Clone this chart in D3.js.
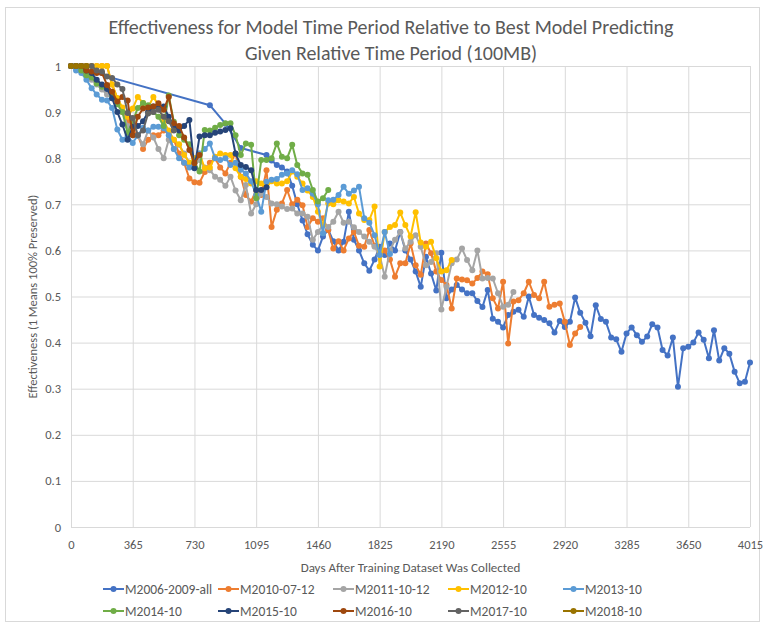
<!DOCTYPE html>
<html>
<head>
<meta charset="utf-8">
<script src="https://cdn.jsdelivr.net/npm/d3@7/dist/d3.min.js"></script>
<style>
  body { margin: 0; background: #fff; }
  text { font-family: Carlito, 'Liberation Sans Narrow', 'Liberation Sans', sans-serif; fill: #595959; }
</style>
</head>
<body>
<script>
// days after training data, one point per month
var days = [
  0,30,61,91,122,152,183,213,243,274,304,335,
  365,395,426,456,487,517,548,578,608,639,669,700,
  730,760,791,821,852,882,913,943,973,1004,1034,1065,
  1095,1125,1156,1186,1217,1247,1278,1308,1338,1369,1399,1430,
  1460,1490,1521,1551,1582,1612,1643,1673,1703,1734,1764,1795,
  1825,1855,1886,1916,1947,1977,2008,2038,2068,2099,2129,2160,
  2190,2220,2251,2281,2312,2342,2373,2403,2433,2464,2494,2525,
  2555,2585,2616,2646,2677,2707,2738,2768,2798,2829,2859,2890,
  2920,2950,2981,3011,3042,3072,3103,3133,3163,3194,3224,3255,
  3285,3315,3346,3376,3407,3437,3468,3498,3528,3559,3589,3620,
  3650,3680,3711,3741,3772,3802,3833,3863,3893,3924,3954,3985,
  4015
];

var seriesNames = ["M2006-2009-all","M2010-07-12","M2011-10-12","M2012-10","M2013-10",
                   "M2014-10","M2015-10","M2016-10","M2017-10","M2018-10"];
var colors = ["#4472C4","#ED7D31","#A5A5A5","#FFC000","#5B9BD5",
              "#70AD47","#264478","#9E480E","#636363","#997300"];

var m2006 = [
  1.0,1.0,0.995,0.99,null,null,null,null,null,null,null,null,
  null,null,null,null,null,null,null,null,null,null,null,null,
  null,null,null,0.915,null,null,0.875,null,null,0.822,null,null,
  null,null,0.807,0.795,0.785,0.78,0.771,0.74,0.70,0.665,0.635,0.612,
  0.60,0.63,0.645,0.62,0.60,0.619,0.684,0.623,0.60,0.572,0.556,0.58,
  0.608,0.59,0.615,0.60,0.64,0.60,0.58,0.554,0.521,0.586,0.55,0.513,
  0.595,0.496,0.515,0.525,0.515,0.507,0.507,0.49,0.477,0.514,0.452,0.445,
  0.433,0.46,0.467,0.471,0.456,0.50,0.46,0.454,0.449,0.442,0.422,0.447,
  0.434,0.445,0.498,0.465,0.443,0.414,0.481,0.451,0.445,0.411,0.407,0.38,
  0.42,0.433,0.416,0.402,0.413,0.44,0.433,0.384,0.372,0.411,0.304,0.388,
  0.391,0.40,0.422,0.406,0.366,0.427,0.361,0.388,0.376,0.337,0.312,0.315,
  0.357
];
var m2010 = [
  1.0,1.0,1.0,1.0,1.0,1.0,1.0,1.0,0.96,0.93,0.90,0.88,
  0.86,0.85,0.82,0.84,0.85,0.85,0.86,0.857,0.84,0.81,0.79,0.756,
  0.748,0.747,0.77,0.79,0.80,0.78,0.767,0.79,0.81,0.76,0.72,0.706,
  0.73,0.72,0.774,0.651,0.688,0.702,0.731,0.70,0.71,0.698,0.651,0.67,
  0.662,0.67,0.644,0.604,0.62,0.60,0.626,0.64,0.61,0.608,0.644,0.61,
  0.593,0.60,0.58,0.543,0.572,0.572,0.615,0.568,0.547,0.615,0.594,0.554,
  0.536,0.525,0.474,0.539,0.537,0.535,0.528,0.54,0.554,0.548,0.496,0.474,
  0.532,0.398,0.489,0.492,0.507,0.532,0.503,0.496,0.532,0.478,0.482,0.485,
  0.445,0.395,0.42,0.434
];
var m2011 = [
  1.0,1.0,0.995,0.98,0.97,0.96,0.949,0.938,0.93,0.923,0.90,0.87,
  0.85,0.848,0.83,0.86,0.845,0.82,0.80,0.84,0.82,0.829,0.81,0.79,
  0.80,0.796,0.78,0.774,0.76,0.753,0.74,0.76,0.73,0.709,0.742,0.68,
  0.70,0.723,0.716,0.702,0.70,0.695,0.69,0.691,0.68,0.68,0.673,0.623,
  0.64,0.655,0.651,0.662,0.684,0.66,0.662,0.65,0.64,0.63,0.619,0.608,
  0.59,0.543,0.60,0.623,0.64,0.604,0.619,0.633,0.608,0.568,0.575,0.594,
  0.472,0.521,0.572,0.58,0.604,0.579,0.557,0.60,0.539,0.54,0.539,0.507,
  0.478,0.482,0.51
];
var m2012 = [
  1.0,1.0,1.0,1.0,1.0,1.0,1.0,1.0,0.96,0.93,0.91,0.89,
  0.908,0.933,0.92,0.91,0.933,0.915,0.88,0.86,0.84,0.83,0.807,0.79,
  0.80,0.81,0.778,0.78,0.803,0.81,0.807,0.807,0.778,0.76,0.755,0.745,
  0.75,0.745,0.738,0.75,0.745,0.745,0.75,0.771,0.76,0.745,0.73,0.716,
  0.684,0.655,0.702,0.70,0.709,0.706,0.702,0.716,0.68,0.666,0.666,0.695,
  0.565,0.64,0.651,0.655,0.682,0.655,0.63,0.683,0.617,0.608,0.619,0.583,
  0.554,0.557,0.579
];
var m2013 = [
  1.0,0.99,0.985,0.97,0.952,0.938,0.927,0.925,0.909,0.862,0.84,0.85,
  0.833,0.85,0.866,0.86,0.868,0.868,0.865,0.85,0.82,0.80,0.79,0.78,
  0.79,0.81,0.82,0.832,0.80,0.796,0.80,0.785,0.79,0.775,0.767,0.75,
  0.72,0.684,0.749,0.753,0.755,0.764,0.767,0.774,0.765,0.731,0.735,0.723,
  0.70,0.637,0.709,0.71,0.72,0.738,0.723,0.73,0.738,0.67,0.66,0.633,
  0.59,0.64,0.592
];
var m2014 = [
  1.0,1.0,0.99,0.98,0.975,0.962,0.955,0.952,0.937,0.917,0.90,0.855,
  0.88,0.909,0.92,0.915,0.90,0.89,0.87,0.936,0.879,0.85,0.84,0.83,
  0.792,0.771,0.861,0.86,0.866,0.872,0.876,0.876,0.85,0.807,0.832,0.829,
  0.713,0.796,0.796,0.80,0.832,0.803,0.80,0.829,0.785,0.767,0.764,0.731,
  0.706,0.713,0.731
];
var m2015 = [
  1.0,1.0,1.0,0.99,0.985,0.97,0.96,0.95,0.93,0.90,0.873,0.84,
  0.868,0.87,0.88,0.90,0.912,0.908,0.912,0.89,0.87,0.86,0.87,0.883,
  0.778,0.847,0.85,0.85,0.855,0.858,0.861,0.865,0.81,0.785,0.781,0.774,
  0.731,0.731,0.737
];
var m2016 = [
  1.0,1.0,1.0,0.99,0.988,0.985,0.985,0.959,0.944,0.923,0.933,0.925,
  0.85,0.89,0.908,0.91,0.912,0.919,0.905,0.933,0.876,0.87,0.845,0.818,
  0.789,0.807
];
var m2017 = [
  1.0,1.0,1.0,1.0,1.0,0.99,0.988,0.977,0.974,0.96,0.95,0.898,
  0.887,0.85,0.86,0.897,0.90,0.905,0.89,0.88,0.86
];
var m2018 = [1.0,1.0,1.0,1.0];

var seriesValues = [m2006, m2010, m2011, m2012, m2013, m2014, m2015, m2016, m2017, m2018];

var xTicks = [0,365,730,1095,1460,1825,2190,2555,2920,3285,3650,4015];
var yTicks = [0,0.1,0.2,0.3,0.4,0.5,0.6,0.7,0.8,0.9,1];

var W = 764, H = 626;
var plot = {left:71, right:750, top:66, bottom:527};

var svg = d3.select("body").append("svg")
  .attr("width", W)
  .attr("height", H);

// chart frame
svg.append("rect")
  .attr("x", 5.5).attr("y", 7.5)
  .attr("width", 754).attr("height", 614)
  .attr("fill", "#fff")
  .attr("stroke", "#D9D9D9");

var x = d3.scaleLinear().domain([0, 4015]).range([plot.left, plot.right]);
var y = d3.scaleLinear().domain([0, 1]).range([plot.bottom, plot.top]);

// gridlines + tick labels
var gx = svg.append("g")
  .attr("transform", "translate(0," + plot.bottom + ")")
  .call(d3.axisBottom(x)
    .tickValues(xTicks)
    .tickSize(-(plot.bottom - plot.top))
    .tickPadding(13)
    .tickFormat(d3.format("d")));

var gy = svg.append("g")
  .attr("transform", "translate(" + plot.left + ",0)")
  .call(d3.axisLeft(y)
    .tickValues(yTicks)
    .tickSize(-(plot.right - plot.left))
    .tickPadding(10)
    .tickFormat(d3.format("~g")));

[gx, gy].forEach(function(g) {
  g.select(".domain").remove();
  g.selectAll(".tick line").attr("stroke", "#D9D9D9").attr("stroke-width", 1);
  g.selectAll(".tick text").attr("font-size", 12.5).style("fill", "#595959")
    .attr("font-family", null);
});

// series, first one drawn underneath
var line = d3.line()
  .x(function(d) { return x(d.day); })
  .y(function(d) { return y(d.v); });

var seriesG = svg.append("g");
seriesValues.forEach(function(vals, k) {
  var pts = [];
  vals.forEach(function(v, i) {
    if (v !== null) pts.push({ day: days[i], v: v });
  });
  var g = seriesG.append("g");
  g.append("path")
    .datum(pts)
    .attr("d", line)
    .attr("fill", "none")
    .attr("stroke", colors[k])
    .attr("stroke-width", 2)
    .attr("stroke-linejoin", "round");
  g.selectAll("circle")
    .data(pts)
    .enter().append("circle")
    .attr("cx", function(d) { return x(d.day); })
    .attr("cy", function(d) { return y(d.v); })
    .attr("r", 3)
    .attr("fill", colors[k]);
});

// titles
svg.append("text")
  .attr("x", 391).attr("y", 34)
  .attr("text-anchor", "middle")
  .attr("font-size", 20)
  .text("Effectiveness for Model Time Period Relative to Best Model Predicting");
svg.append("text")
  .attr("x", 391).attr("y", 60)
  .attr("text-anchor", "middle")
  .attr("font-size", 20)
  .text("Given Relative Time Period (100MB)");

svg.append("text")
  .attr("x", (plot.left + plot.right) / 2).attr("y", 572)
  .attr("text-anchor", "middle")
  .attr("font-size", 13)
  .text("Days After Training Dataset Was Collected");

svg.append("text")
  .attr("transform", "translate(37," + (plot.top + plot.bottom) / 2 + ") rotate(-90)")
  .attr("text-anchor", "middle")
  .attr("font-size", 12.5)
  .text("Effectiveness (1 Means 100% Preserved)");

// legend, 5 per row
var legend = svg.append("g").selectAll("g")
  .data(seriesNames)
  .enter().append("g")
  .attr("transform", function(d, i) {
    return "translate(" + (103 + (i % 5) * 115) + "," + (589 + Math.floor(i / 5) * 22) + ")";
  });
legend.append("line")
  .attr("x1", 0).attr("x2", 21)
  .attr("stroke", function(d, i) { return colors[i]; })
  .attr("stroke-width", 2);
legend.append("circle")
  .attr("cx", 10.5).attr("r", 3)
  .attr("fill", function(d, i) { return colors[i]; });
legend.append("text")
  .attr("x", 22).attr("dy", "0.35em")
  .attr("font-size", 13.5)
  .text(function(d) { return d; });
</script>
</body>
</html>
